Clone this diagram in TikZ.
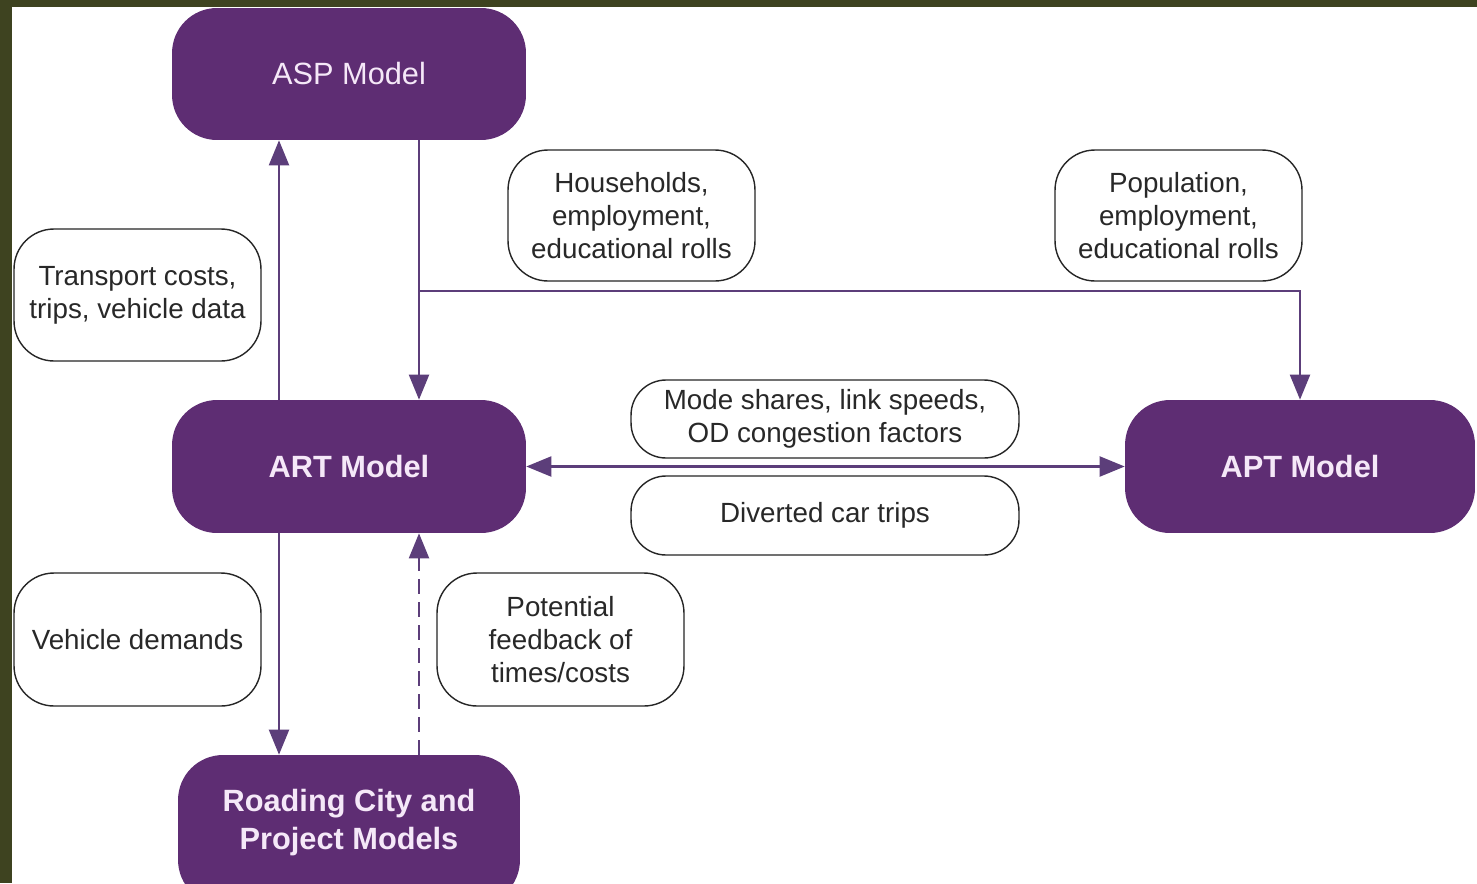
\documentclass[tikz,border=0pt]{standalone}
\usepackage{fontspec}
\setmainfont{Liberation Sans}
\usetikzlibrary{arrows.meta}
\definecolor{bgolive}{RGB}{62,67,32}
\definecolor{modelfill}{RGB}{94,45,115}
\definecolor{modeltxt}{RGB}{245,232,248}
\definecolor{conncol}{RGB}{92,62,122}
\definecolor{labtxt}{RGB}{40,40,40}
\tikzset{mytip/.tip={Triangle[length=0.5cm,width=0.4cm]}}
\begin{document}
\begin{tikzpicture}[x=0.02cm,y=-0.02cm,
 model/.style={fill=modelfill, rounded corners=0.9cm, text=modeltxt, font=\fontsize{17.5}{21.6}\selectfont, align=center, inner sep=0pt},
 modelb/.style={model, font=\fontsize{17.5}{21.6}\selectfont\bfseries},
 lab/.style={draw=black!85, line width=0.8pt, fill=white, rounded corners=0.8cm, text=labtxt, font=\fontsize{15.8}{18.8}\selectfont, align=center, inner sep=0pt},
 connector/.style={draw=conncol, line width=1.2pt, -mytip}
]
\useasboundingbox (0,0) rectangle (1477,883);
\fill[bgolive] (0,0) rectangle (1477,883);
\fill[white] (12,7) rectangle (1477,883);

\begin{scope}
\clip (12,7) rectangle (1477,883);
\node[model, minimum width=7.08cm, minimum height=2.64cm] (asp) at (349,74) {ASP Model};
\node[modelb, minimum width=7.08cm, minimum height=2.66cm] (art) at (349,466.5) {ART Model};
\node[modelb, minimum width=7.0cm, minimum height=2.66cm] (apt) at (1300,466.5) {APT Model};
\node[modelb, minimum width=6.84cm, minimum height=3.0cm,
  label={[text=modeltxt, font=\fontsize{17.5}{21.6}\selectfont\bfseries, align=center, yshift=0.14cm]center:{Roading City and\\Project Models}}] (road) at (349,830) {};
\end{scope}

\node[lab, minimum width=4.94cm, minimum height=2.64cm] (trans) at (137.5,295) {Transport costs,\\trips, vehicle data};
\node[lab, minimum width=4.94cm, minimum height=2.62cm] (house) at (631.5,215.5) {Households,\\employment,\\educational rolls};
\node[lab, minimum width=4.94cm, minimum height=2.62cm] (pop) at (1178.5,215.5) {Population,\\employment,\\educational rolls};
\node[lab, rounded corners=0.7cm, minimum width=7.76cm, minimum height=1.56cm] (mode) at (825,419) {Mode shares, link speeds,\\OD congestion factors};
\node[lab, rounded corners=0.7cm, minimum width=7.76cm, minimum height=1.58cm] (div) at (825,515.5) {Diverted car trips};
\node[lab, minimum width=4.94cm, minimum height=2.66cm] (veh) at (137.5,639.5) {Vehicle demands};
\node[lab, minimum width=4.94cm, minimum height=2.66cm] (pot) at (560.5,639.5) {Potential\\feedback of\\times/costs};

\coordinate (lx) at (279,0);
\coordinate (rx) at (419,0);
\coordinate (bj) at (419,291);

\draw[connector] (art.north -| lx) -- (asp.south -| lx);
\draw[connector] (asp.south -| rx) -- (art.north -| rx);
\draw[connector] (bj) -| (apt.north);
\draw[connector, mytip-mytip] (art.east) -- (apt.west);
\draw[connector] (art.south -| lx) -- (road.north -| lx);
\draw[connector, dash pattern=on 0.3cm off 0.16cm] (road.north -| rx) -- (art.south -| rx);
\end{tikzpicture}
\end{document}
